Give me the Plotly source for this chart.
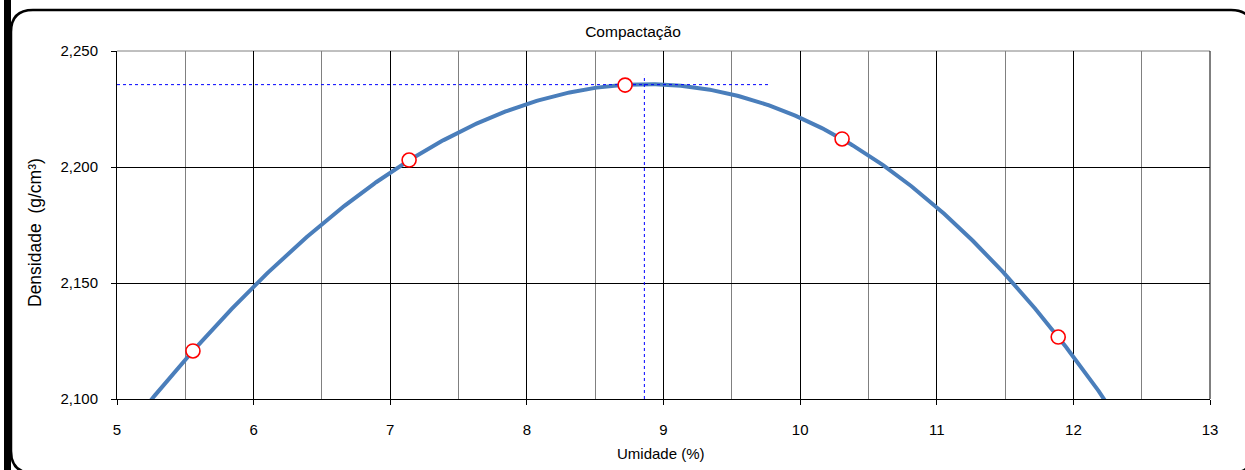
import numpy as np
import plotly.graph_objects as go

# ---- data ----
umidade = [5.556, 7.138, 8.719, 10.307, 11.889]          # %
densidade = [2.1207, 2.2030, 2.2353, 2.2121, 2.1267]     # g/cm3
x_tick_vals = [5, 6, 7, 8, 9, 10, 11, 12, 13]
y_tick_vals = [2.100, 2.150, 2.200, 2.250]
umidade_otima = 8.86
densidade_max = 2.2355
linha_h_x = [5.0, 9.77]
linha_h_y = [densidade_max, densidade_max]
linha_v_x = [umidade_otima, umidade_otima]
linha_v_y = [2.100, 2.2397]

# polynomial (order 3) trendline of the measured points, as in the spreadsheet
coef = np.polyfit(umidade, densidade, 3)
curve_x = np.linspace(5.0, 13.0, 600)
curve_y = np.polyval(coef, curve_x)

W, H = 1245, 470
L, R, T, B = 117, 35, 51, 71
PW, PH = W - L - R, H - T - B


def px(x):
    return (x - L) / PW


def py(y):
    return (H - B - y) / PH


FONT = "Liberation Sans, Arial, sans-serif"

fig = go.Figure()
fig.add_trace(go.Scatter(x=curve_x, y=curve_y, mode="lines",
                         line=dict(color="rgb(74,126,187)", width=4),
                         hoverinfo="skip", showlegend=False))
fig.add_trace(go.Scatter(x=linha_h_x, y=linha_h_y, mode="lines",
                         line=dict(color="#0000ff", width=1, dash="dot"),
                         showlegend=False))
fig.add_trace(go.Scatter(x=linha_v_x, y=linha_v_y, mode="lines",
                         line=dict(color="#0000ff", width=1, dash="dot"),
                         showlegend=False))
fig.add_trace(go.Scatter(x=umidade, y=densidade, mode="markers",
                         marker=dict(size=14, color="white",
                                     line=dict(color="#ff0000", width=1.6)),
                         showlegend=False))

# plot-area top (gray) and right (black) edges
fig.add_shape(type="line", xref="paper", yref="paper", x0=0, x1=1, y0=1, y1=1,
              line=dict(color="#808080", width=1), layer="below")
fig.add_shape(type="line", xref="paper", yref="paper", x0=1, x1=1, y0=0, y1=1,
              line=dict(color="black", width=1), layer="below")

# outer frame (rounded border + thick left edge)
x0, y0, x1, y1, r = 11, 10, 1253, 473, 22
path = (f"M {px(x0)} {py(y0 + r)} Q {px(x0)} {py(y0)} {px(x0 + r)} {py(y0)} "
        f"L {px(x1 - r)} {py(y0)} Q {px(x1)} {py(y0)} {px(x1)} {py(y0 + r)} "
        f"L {px(x1)} {py(y1 - r)} Q {px(x1)} {py(y1)} {px(x1 - r)} {py(y1)} "
        f"L {px(x0 + r)} {py(y1)} Q {px(x0)} {py(y1)} {px(x0)} {py(y1 - r)} Z")
fig.add_shape(type="path", path=path, xref="paper", yref="paper",
              line=dict(color="black", width=2.5), layer="above")
fig.add_shape(type="rect", xref="paper", yref="paper",
              x0=px(4), x1=px(11), y0=py(0), y1=py(H),
              fillcolor="black", line=dict(width=0), layer="above")

fig.update_layout(
    width=W, height=H,
    margin=dict(l=L, r=R, t=T, b=B),
    paper_bgcolor="white", plot_bgcolor="white",
    separators=",.",
    font=dict(family=FONT, size=15, color="black"),
    title=dict(text="Compactação", x=px(633), xref="paper", xanchor="center",
               y=1 - 32 / H, yref="container", yanchor="middle",
               font=dict(size=15.5, family=FONT)),
    xaxis=dict(range=[5, 13], tickvals=x_tick_vals, showgrid=True,
               gridcolor="black", gridwidth=1, zeroline=False,
               showline=True, linecolor="black", linewidth=1,
               ticks="outside", ticklen=5, tickcolor="black",
               ticklabelstandoff=12, tickfont=dict(size=15),
               minor=dict(dtick=0.5, tick0=5, showgrid=True,
                          gridcolor="#808080", gridwidth=1, ticks="")),
    yaxis=dict(range=[2.1, 2.25], tickvals=y_tick_vals, tickformat=".3f",
               showgrid=True, gridcolor="black", gridwidth=1, zeroline=False,
               showline=True, linecolor="black", linewidth=1,
               ticks="outside", ticklen=5, tickcolor="black",
               ticklabelstandoff=10, tickfont=dict(size=15)),
    annotations=[
        dict(text="Umidade (%)", xref="paper", yref="paper", x=px(661),
             y=py(453), xanchor="center", yanchor="middle", showarrow=False,
             font=dict(size=15)),
        dict(text="Densidade  (g/cm³)", xref="paper", yref="paper", x=px(35),
             y=py(233), xanchor="center", yanchor="middle", showarrow=False,
             textangle=-90, font=dict(size=17.5)),
    ],
)

fig.write_html("out.html", config={"displayModeBar": False},
               post_script="document.body.style.margin='0';document.body.style.overflow='hidden';")
